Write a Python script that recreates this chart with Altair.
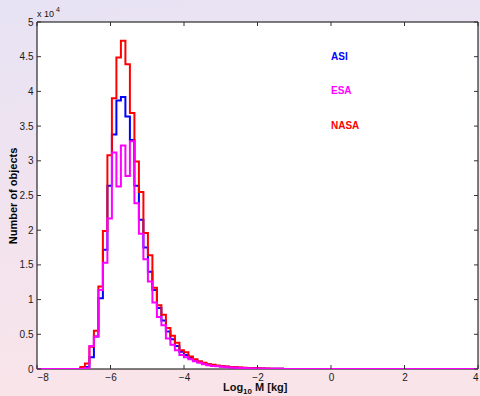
import altair as alt
import pandas as pd

# ---- data ----
bin_lo = -6.819      # left edge of first listed bin (log10 kg)
bin_w = 0.12245      # bin width (log10 kg)

asi_counts = [100, 300, 1700, 4700, 10200, 17200, 26400, 33800, 38700, 39200,
              36400, 33000, 26400, 21500, 17500, 14000, 11400, 8800, 7000, 5400,
              4300, 3300, 2500, 2000, 1600, 1250, 1000, 800, 650, 550,
              450, 380, 320, 270, 220, 180, 150, 120, 100, 80,
              65, 50, 40, 30, 25]
esa_counts = [50, 100, 3300, 4700, 11400, 15300, 21700, 31200, 26300, 32200,
              27800, 32800, 23900, 19500, 15800, 12600, 9600, 7500, 6300, 4400,
              3500, 2700, 2000, 1700, 1400, 1100, 900, 700, 550, 450,
              380, 320, 270, 230, 190, 160, 130, 110, 90, 70,
              55, 45, 35, 25, 20]
nasa_counts = [300, 800, 3200, 5500, 11900, 19900, 30800, 39000, 44900, 47300,
               43900, 36900, 29900, 25500, 19600, 16400, 11700, 9200, 7800, 5900,
               4800, 3800, 2700, 2400, 1800, 1400, 1100, 900, 700, 600,
               500, 400, 350, 300, 250, 200, 170, 140, 120, 100,
               80, 60, 50, 40, 30]

x_ticks = [-8, -6, -4, -2, 0, 2, 4]
y_ticks = [0, 5000, 10000, 15000, 20000, 25000, 30000, 35000, 40000, 45000, 50000]

labels = ["ASI", "ESA", "NASA"]
label_x = [0.0, 0.0, 0.0]
label_y = [45000, 40000, 35000]
colors = ["#0000ff", "#ff00ff", "#ff0000"]

X_MIN, X_MAX = -8, 4
Y_MAX = 50000
W, H = 441, 347
FONT = "Liberation Sans"


def steps(counts):
    rows = [{"x": X_MIN, "y": 0, "o": 0}]
    for i, c in enumerate(counts):
        rows.append({"x": bin_lo + bin_w * i, "y": c, "o": i + 1})
    n = len(counts)
    rows.append({"x": bin_lo + bin_w * n, "y": 0, "o": n + 1})
    rows.append({"x": X_MAX, "y": 0, "o": n + 2})
    return pd.DataFrame(rows)


xs = alt.Scale(domain=[X_MIN, X_MAX], nice=False, zero=False)
ys = alt.Scale(domain=[0, Y_MAX], nice=False)

x_axis = alt.Axis(values=x_ticks, tickSize=0, domain=False, grid=False,
                  labelFont=FONT, labelFontSize=10, labelColor="#1a1a1a",
                  labelPadding=3, title="", zindex=1)
y_axis = alt.Axis(values=y_ticks, tickSize=0, domain=False, grid=False,
                  labelExpr="format(datum.value / 10000, '~g')",
                  labelFont=FONT, labelFontSize=10, labelColor="#1a1a1a",
                  labelPadding=4, title="Number of objects", titleFont=FONT,
                  titleFontSize=11, titleFontWeight="bold", titleColor="#000000",
                  titlePadding=1, zindex=1)

one = pd.DataFrame({"a": [0]})

bg = alt.Chart(one).mark_rect(
    fill=alt.LinearGradient(
        gradient="linear",
        stops=[alt.GradientStop(color="#e7e3f4", offset=0),
               alt.GradientStop(color="#f1e3ef", offset=0.5),
               alt.GradientStop(color="#f9e4e9", offset=1)],
        x1=0, y1=0, x2=0.15, y2=1),
).encode(x=alt.value(-37), x2=alt.value(W + 2), y=alt.value(-22), y2=alt.value(H + 27))

box = alt.Chart(one).mark_rect(fill="white", stroke="#000000", strokeWidth=1).encode(
    x=alt.value(0), x2=alt.value(W), y=alt.value(0), y2=alt.value(H))


def line(counts, color):
    return alt.Chart(steps(counts)).mark_line(
        interpolate="step-after", color=color, strokeWidth=2, clip=True
    ).encode(
        x=alt.X("x:Q", scale=xs, axis=x_axis),
        y=alt.Y("y:Q", scale=ys, axis=y_axis),
        order="o:Q",
    )


xt = pd.DataFrame({"x": x_ticks})
yt = pd.DataFrame({"y": y_ticks})
tick_bottom = alt.Chart(xt).mark_rule(color="#333333").encode(
    x=alt.X("x:Q", scale=xs, axis=x_axis), y=alt.value(H), y2=alt.value(H - 4))
tick_top = alt.Chart(xt).mark_rule(color="#333333").encode(
    x=alt.X("x:Q", scale=xs, axis=x_axis), y=alt.value(0), y2=alt.value(4))
tick_left = alt.Chart(yt).mark_rule(color="#333333").encode(
    y=alt.Y("y:Q", scale=ys, axis=y_axis), x=alt.value(0), x2=alt.value(4))
tick_right = alt.Chart(yt).mark_rule(color="#333333").encode(
    y=alt.Y("y:Q", scale=ys, axis=y_axis), x=alt.value(W), x2=alt.value(W - 4))

lab_df = pd.DataFrame({"label": labels, "x": label_x, "y": label_y})
texts = alt.Chart(lab_df).mark_text(
    align="left", baseline="middle", font=FONT, fontSize=10, fontWeight="bold"
).encode(
    x=alt.X("x:Q", scale=xs, axis=x_axis),
    y=alt.Y("y:Q", scale=ys, axis=y_axis),
    text="label:N",
    color=alt.Color("label:N", scale=alt.Scale(domain=labels, range=colors), legend=None),
)


def note(txt, x, y, size, weight="normal"):
    return alt.Chart(one).mark_text(align="left", baseline="middle", font=FONT,
                                    fontSize=size, fontWeight=weight,
                                    color="#111111").encode(
        x=alt.value(x), y=alt.value(y), text=alt.value(txt))


mult = note("x 10", 0, -8, 9)
mult_exp = note("4", 19, -12, 7)

# x-axis title "Log10 M [kg]" with subscript
xt_log = note("Log", 186, H + 19, 11, "bold")
xt_sub = note("10", 206, H + 23, 8, "bold")
xt_rest = note("M [kg]", 218, H + 19, 11, "bold")

chart = alt.layer(
    bg, box,
    line(asi_counts, "#0000ff"),
    line(nasa_counts, "#ff0000"),
    line(esa_counts, "#ff00ff"),
    tick_bottom, tick_top, tick_left, tick_right,
    texts, mult, mult_exp, xt_log, xt_sub, xt_rest,
).properties(
    width=W, height=H, autosize="none",
    padding={"left": 37, "top": 22, "right": 2, "bottom": 27},
).configure_view(strokeWidth=0)

chart.save("out.html", embed_options={"renderer": "svg", "actions": False})
